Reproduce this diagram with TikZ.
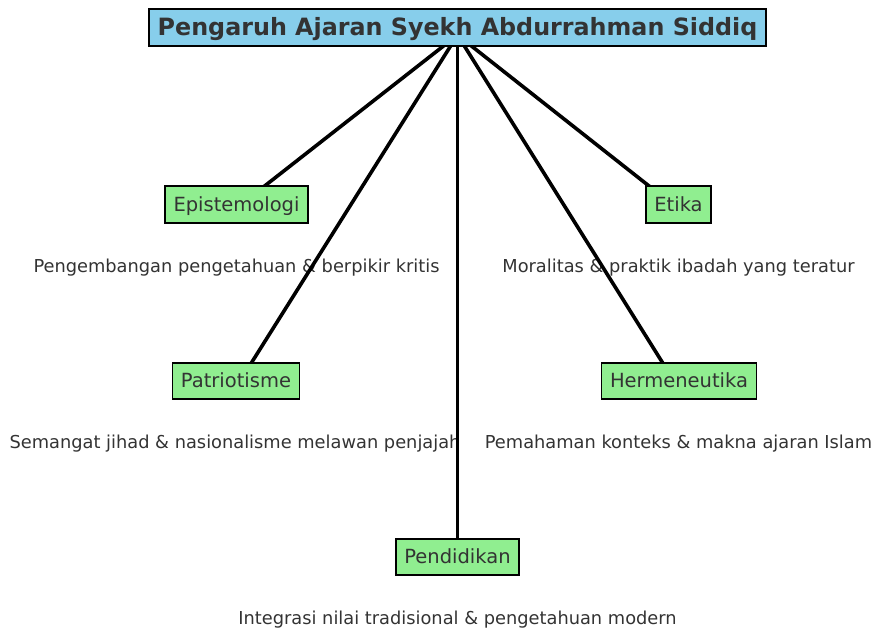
\documentclass[tikz,border=0pt]{standalone}
\usepackage{fontspec}
\setmainfont{DejaVu Sans}
\usetikzlibrary{calc,backgrounds}
\definecolor{txt}{HTML}{333333}
\definecolor{skyb}{HTML}{87CEEB}
\definecolor{lgreen}{HTML}{90EE90}
\begin{document}
\begin{tikzpicture}[x=1pt,y=-1pt,
  titlebox/.style={draw=black,line width=1.6pt,fill=skyb,text=txt,
    font=\fontsize{23.8}{28}\selectfont\bfseries,inner xsep=8.5pt,
    minimum height=37pt,text height=17pt,text depth=1pt},
  topic/.style={draw=black,line width=1.6pt,fill=lgreen,text=txt,
    font=\fontsize{19.5}{23}\selectfont,inner xsep=8.5pt,
    minimum height=36.5pt,text height=14pt,text depth=1pt},
  desc/.style={text=txt,font=\fontsize{17.8}{21}\selectfont,anchor=base,inner sep=0pt},
  link/.style={line width=3.6pt,black}]
\useasboundingbox (0,0) rectangle (872,630);
\node[titlebox] (title) at (457.5,27.5) {Pengaruh Ajaran Syekh Abdurrahman Siddiq};
\node[topic] (epi) at (236.5,204.5) {Epistemologi};
\node[topic] (eti) at (678.5,204.5) {Etika};
\node[topic] (pat) at (236,381) {Patriotisme};
\node[topic] (her) at (679,381) {Hermeneutika};
\node[topic] (pen) at (457.5,557) {Pendidikan};
\coordinate (hub) at ($(title.center)+(0,7.5)$);
\begin{scope}[on background layer]
  \node[desc] (d1) at (236.5,272) {Pengembangan pengetahuan \& berpikir kritis};
  \node[desc] (d2) at (678.5,272) {Moralitas \& praktik ibadah yang teratur};
  \node[desc] (d3) at (235,448.5) {Semangat jihad \& nasionalisme melawan penjajah};
  \node[desc] (d4) at (678.5,448.5) {Pemahaman konteks \& makna ajaran Islam};
  \node[desc] (d5) at (457.5,624) {Integrasi nilai tradisional \& pengetahuan modern};
  \draw[link] (hub) -- ($(epi.center)+(4.5,0)$);
  \draw[link] (hub) -- ($(pat.center)+(4,0)$);
  \draw[link] (hub) -- (pen.center);
  \draw[link] (hub) -- ($(her.center)+(-5,0)$);
  \draw[link] (hub) -- ($(eti.center)+(-6,0)$);
\end{scope}
\end{tikzpicture}
\end{document}
